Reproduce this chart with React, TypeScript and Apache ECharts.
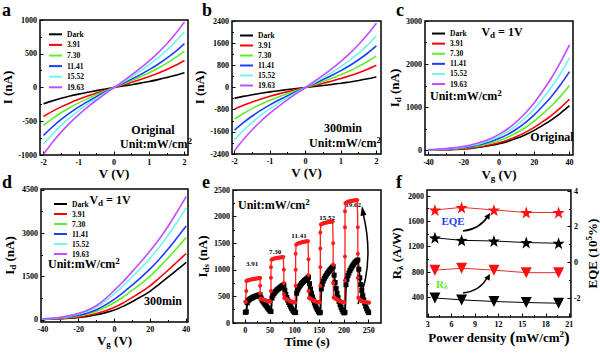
import React, { useEffect, useRef } from "react";
import * as echarts from "echarts";

const FONT = "'Liberation Serif', 'Times New Roman', serif";

const powerLabels = ["Dark", "3.91", "7.30", "11.41", "15.52", "19.63"];
const lineColors = ["#000000", "#ff0000", "#5fee2a", "#1d3dff", "#70f5f0", "#c24cff"];

// Panels a, b: bias voltage (V)
const biasV = [-2, -1.75, -1.5, -1.25, -1, -0.75, -0.5, -0.25, 0, 0.25, 0.5, 0.75, 1, 1.25, 1.5, 1.75, 2];
const aDark = [-240, -198, -160, -127, -98, -71, -46, -23, 0, 21, 42, 65, 89, 117, 147, 181, 220];
const a391 = [-430, -354, -287, -228, -175, -127, -82, -41, 0, 38, 77, 118, 163, 212, 267, 329, 400];
const a730 = [-560, -461, -374, -297, -228, -165, -107, -53, 0, 51, 103, 159, 219, 286, 361, 445, 540];
const a1141 = [-710, -585, -474, -376, -288, -209, -136, -67, 0, 61, 124, 191, 264, 344, 434, 535, 650];
const a1552 = [-840, -692, -561, -445, -341, -247, -161, -79, 0, 78, 159, 244, 337, 440, 554, 684, 830];
const a1963 = [-990, -815, -661, -524, -402, -291, -189, -93, 0, 91, 186, 286, 394, 514, 648, 799, 970];

const bDark = [-390, -321, -261, -207, -158, -115, -75, -37, 0, 36, 73, 112, 154, 201, 254, 313, 380];
const b391 = [-780, -642, -521, -413, -317, -230, -149, -73, 0, 75, 153, 236, 325, 424, 534, 659, 800];
const b730 = [-1140, -939, -762, -604, -463, -336, -218, -107, 0, 107, 218, 336, 463, 604, 762, 939, 1140];
const b1141 = [-1540, -1268, -1029, -816, -626, -453, -295, -145, 0, 141, 287, 442, 609, 795, 1002, 1236, 1500];
const b1552 = [-1880, -1549, -1256, -996, -764, -553, -360, -177, 0, 175, 356, 548, 756, 985, 1242, 1532, 1860];
const b1963 = [-2280, -1878, -1523, -1208, -926, -671, -436, -215, 0, 219, 444, 683, 943, 1229, 1550, 1911, 2320];

// Panels c, d: gate voltage (V)
const gateV = [-40, -35, -30, -25, -20, -15, -10, -5, 0, 5, 10, 15, 20, 25, 30, 35, 40];
const cDark = [10, 14, 20, 30, 42, 60, 85, 118, 160, 215, 285, 370, 470, 590, 720, 870, 1040];
const c391 = [11, 16, 23, 34, 48, 69, 97, 135, 183, 246, 326, 424, 538, 676, 824, 996, 1190];
const c730 = [15, 20, 29, 44, 61, 87, 123, 171, 232, 312, 413, 537, 682, 856, 1044, 1262, 1510];
const c1141 = [18, 25, 35, 53, 74, 106, 150, 208, 282, 378, 502, 651, 827, 1038, 1267, 1531, 1830];
const c1552 = [21, 29, 41, 62, 87, 124, 175, 243, 330, 443, 587, 762, 968, 1215, 1483, 1792, 2140];
const c1963 = [24, 33, 47, 71, 99, 142, 201, 278, 378, 507, 673, 873, 1109, 1392, 1699, 2053, 2450];

const dDark = [20, 28, 40, 58, 85, 125, 180, 255, 345, 480, 640, 810, 1000, 1240, 1490, 1740, 1990];
const d391 = [23, 32, 47, 71, 105, 154, 224, 321, 438, 597, 781, 976, 1190, 1452, 1729, 2013, 2300];
const d730 = [28, 40, 61, 93, 140, 206, 301, 438, 603, 804, 1032, 1270, 1528, 1828, 2154, 2498, 2850];
const d1141 = [31, 46, 70, 109, 165, 244, 357, 523, 724, 956, 1215, 1485, 1774, 2103, 2463, 2852, 3250];
const d1552 = [37, 54, 85, 134, 205, 302, 444, 655, 910, 1190, 1498, 1817, 2155, 2527, 2942, 3398, 3871];
const d1963 = [40, 60, 95, 150, 230, 340, 500, 740, 1030, 1340, 1680, 2030, 2400, 2800, 3250, 3750, 4270];

// Panel e: time response, black sampled every 2 s from t = 0
const eBlackStep = 2;
const eBlack = [
  200, 210, 380, 420, 440, 455, 465, 475, 485, 492, 500, 507, 513, 520, 526, 530,
  470, 430, 400, 375, 350, 325, 300, 275, 250, 225,
  215, 470, 520, 555, 580, 600, 620, 635, 650, 665, 680, 695, 705, 715,
  620, 540, 480, 430, 385, 345, 305, 270, 240, 215, 195,
  200, 560, 620, 660, 690, 715, 740, 760, 780, 800, 815, 830, 845, 860,
  740, 640, 560, 490, 430, 375, 325, 285, 250, 215, 190,
  200, 640, 730, 790, 835, 870, 900, 930, 955, 980, 1000, 1025, 1045, 1060,
  900, 760, 650, 555, 475, 405, 345, 295, 250, 215, 190,
  200, 720, 820, 890, 940, 985, 1020, 1055, 1085, 1110, 1135, 1155, 1170, 1185,
  1010, 850, 720, 610, 515, 435, 370, 315, 265, 225, 195,
];
const eRed: [number, number][] = [
  [0, 400], [1, 400], [2, 600], [2, 790], [4, 800], [6, 805], [8, 810], [10, 815], [12, 818], [14, 822],
  [16, 826], [18, 830], [20, 833], [22, 836], [24, 839], [26, 842], [28, 845], [30, 846], [30, 700], [30, 560],
  [31, 460], [33, 455], [35, 445], [37, 438], [39, 432], [41, 426], [43, 420], [45, 415], [47, 410], [49, 405], [51, 402],
  [52, 600], [52, 850], [52, 1050], [53, 1190], [55, 1200], [57, 1207], [59, 1212], [61, 1216], [63, 1220], [65, 1224],
  [67, 1227], [69, 1230], [71, 1233], [73, 1236], [75, 1238], [77, 1240], [78, 1000], [78, 750], [78, 540],
  [79, 470], [81, 460], [83, 450], [85, 440], [87, 430], [89, 420], [91, 412], [93, 405], [95, 398], [97, 392], [99, 388], [101, 385],
  [102, 700], [102, 1000], [102, 1300], [103, 1470], [105, 1485], [107, 1495], [109, 1502], [111, 1508], [113, 1513],
  [115, 1518], [117, 1522], [119, 1526], [121, 1530], [123, 1533], [125, 1536], [127, 1538], [128, 1200], [128, 900], [128, 600],
  [129, 470], [131, 460], [133, 450], [135, 440], [137, 430], [139, 420], [141, 412], [143, 405], [145, 398], [147, 392], [149, 388], [151, 385],
  [152, 700], [152, 1050], [152, 1400], [152, 1700], [153, 1850], [155, 1862], [157, 1870], [159, 1877], [161, 1882], [163, 1887],
  [165, 1891], [167, 1895], [169, 1898], [171, 1901], [173, 1904], [175, 1906], [177, 1908], [178, 1500], [178, 1100], [178, 750],
  [179, 480], [181, 465], [183, 455], [185, 445], [187, 435], [189, 425], [191, 415], [193, 408], [195, 400], [197, 395], [199, 390], [201, 385],
  [202, 800], [202, 1250], [202, 1800], [202, 2100], [203, 2250], [205, 2265], [207, 2275], [209, 2282], [211, 2288], [213, 2292],
  [215, 2296], [217, 2299], [219, 2302], [221, 2305], [223, 2307], [225, 2309], [227, 2310], [228, 1800], [228, 1300], [228, 850],
  [229, 480], [231, 440], [233, 425], [235, 415], [237, 408], [239, 402], [241, 397], [243, 393], [245, 390], [247, 387], [249, 385], [251, 383],
];
const ePowerTags = ["3.91", "7.30", "11.41", "15.52", "19.62"];

// Panel f
const fPower = [3.91, 7.3, 11.41, 15.52, 19.63];
const fEqeRed = [1780, 1820, 1780, 1740, 1740];
const fEqeBlack = [1340, 1300, 1290, 1265, 1255];
const fRRed = [830, 860, 830, 790, 790];
const fRBlack = [390, 360, 335, 318, 308];

const STAR = "path://M0,-10L2.35,-3.24L9.51,-3.09L3.8,1.24L5.88,8.09L0,4L-5.88,8.09L-3.8,1.24L-9.51,-3.09L-2.35,-3.24Z";

const RICH: any = {
  m: { fontFamily: FONT, fontWeight: "bold", fontSize: 13, color: "#000" },
  s: { fontFamily: FONT, fontWeight: "bold", fontSize: 9, color: "#000", padding: [7, 0, 0, 0] },
  u: { fontFamily: FONT, fontWeight: "bold", fontSize: 9, color: "#000", padding: [0, 0, 7, 0] },
  p: { fontFamily: FONT, fontWeight: "bold", fontSize: 17, color: "#000" },
};

const labelStyle = { color: "#000", fontFamily: FONT, fontWeight: "bold", fontSize: 8 };

function axis(kind: "x" | "y", gi: number, min: number, max: number, vals: number[], name: string, gap: number, extra: any = {}) {
  return {
    type: "value",
    gridIndex: gi,
    min,
    max,
    axisLine: { show: false, onZero: false },
    splitLine: { show: false },
    axisTick: { show: true, inside: true, length: 3.5, customValues: vals, lineStyle: { color: "#000", width: 1 } },
    axisLabel: { ...labelStyle, customValues: vals, margin: 3, formatter: (v: number) => String(v) },
    name,
    nameLocation: "middle",
    nameGap: gap,
    nameRotate: kind === "y" ? 90 : 0,
    nameTextStyle: { fontFamily: FONT, fontWeight: "bold", fontSize: 13, color: "#000", rich: RICH },
    ...extra,
  };
}

// Axis carrying only the short minor ticks
function minorAxis(gi: number, min: number, max: number, vals: number[], position: string) {
  return {
    type: "value",
    gridIndex: gi,
    min,
    max,
    position,
    axisLine: { show: false, onZero: false },
    splitLine: { show: false },
    axisTick: { show: true, inside: true, length: 2, customValues: vals, lineStyle: { color: "#000", width: 1 } },
    axisLabel: { show: false },
  };
}

function ivSeries(panel: number[][], xs: number[], gi: number) {
  return panel.map((arr, k) => ({
    type: "line",
    name: powerLabels[k],
    xAxisIndex: gi,
    yAxisIndex: gi,
    data: xs.map((x, i) => [x, arr[i]]),
    showSymbol: false,
    symbol: "none",
    smooth: 0.3,
    lineStyle: { color: lineColors[k], width: 1.6 },
    itemStyle: { color: lineColors[k] },
  }));
}

function legendAt(left: number, top: number, lh: number) {
  return {
    left,
    top,
    orient: "vertical",
    icon: "rect",
    itemWidth: 13,
    itemHeight: 2,
    itemGap: 1,
    selectedMode: false,
    data: powerLabels,
    textStyle: { ...labelStyle, fontSize: 7.5, lineHeight: lh - 1 },
  };
}

function txt(x: number, y: number, text: string, size: number, align = "center", fill = "#000", rich?: any) {
  return {
    type: "text",
    x,
    y,
    style: {
      text,
      fill,
      font: `bold ${size}px ${FONT}`,
      align,
      verticalAlign: "middle",
      rich,
    },
  };
}

const unitRich = {
  m: { fontFamily: FONT, fontWeight: "bold", fontSize: 12, fill: "#000" },
  u: { fontFamily: FONT, fontWeight: "bold", fontSize: 9, fill: "#000", padding: [0, 0, 7, 0] },
  s: { fontFamily: FONT, fontWeight: "bold", fontSize: 9, fill: "#000", padding: [6, 0, 0, 0] },
};
const unitText = "{m|Unit:mW/cm}{u|2}";
const vdText = "{m|V}{s|d}{m| = 1V}";

export default function App() {
  const ref = useRef<HTMLDivElement>(null);
  useEffect(() => {
    document.body.style.margin = "0";
    if (!ref.current) return;
    const chart = echarts.init(ref.current, undefined, { renderer: "svg" });
    const gridBox = { show: true, borderColor: "#000", borderWidth: 1.5, backgroundColor: "transparent" };
    const option: any = {
      animation: false,
      backgroundColor: "#fff",
      grid: [
        { ...gridBox, left: 40, top: 20, width: 148, height: 135 },
        { ...gridBox, left: 232, top: 21, width: 149, height: 133 },
        { ...gridBox, left: 425, top: 21, width: 148, height: 134 },
        { ...gridBox, left: 41, top: 189, width: 147, height: 133 },
        { ...gridBox, left: 233, top: 190, width: 148, height: 133 },
        { ...gridBox, left: 427, top: 190, width: 148, height: 127 },
      ],
      xAxis: [
        axis("x", 0, -2.1, 2.1, [-2, -1, 0, 1, 2], "V (V)", 11),
        axis("x", 1, -2.07, 2.13, [-2, -1, 0, 1, 2], "V (V)", 11),
        axis("x", 2, -42, 42, [-40, -20, 0, 20, 40], "{m|V}{s|g}{m| (V)}", 11),
        axis("x", 3, -41, 41, [-40, -20, 0, 20, 40], "{m|V}{s|g}{m| (V)}", 9),
        axis("x", 4, -25, 275, [0, 50, 100, 150, 200, 250], "Time (s)", 10),
        axis("x", 5, 2.9, 21.2, [3, 6, 9, 12, 15, 18, 21], "{m|Power density }{p|(}{m|mW/cm}{u|2}{p|)}", 8),
        minorAxis(0, -2.1, 2.1, [-1.5, -0.5, 0.5, 1.5], "bottom"),
        minorAxis(1, -2.07, 2.13, [-1.5, -0.5, 0.5, 1.5], "bottom"),
        minorAxis(2, -42, 42, [-30, -10, 10, 30], "bottom"),
        minorAxis(3, -41, 41, [-30, -10, 10, 30], "bottom"),
        minorAxis(4, -25, 275, [25, 75, 125, 175, 225], "bottom"),
        minorAxis(5, 2.9, 21.2, [4.5, 7.5, 10.5, 13.5, 16.5, 19.5], "bottom"),
      ],
      yAxis: [
        axis("y", 0, -1000, 1000, [-1000, -500, 0, 500, 1000], "I (nA)", 15),
        axis("y", 1, -2400, 2400, [-2400, -1600, -800, 0, 800, 1600, 2400], "I (nA)", 17),
        axis("y", 2, -100, 3000, [0, 1000, 2000, 3000], "{m|I}{s|d}{m| (nA)}", 15),
        axis("y", 3, -70, 4530, [0, 1500, 3000, 4500], "{m|I}{s|d}{m| (nA)}", 24),
        axis("y", 4, 0, 2500, [0, 500, 1000, 1500, 2000, 2500], "{m|I}{s|ds}{m| (nA)}", 18),
        axis("y", 5, 90, 2095, [400, 800, 1200, 1600, 2000], "{m|R}{s|λ}{m| (A/W)}", 15),
        axis("y", 5, -3.05, 4.056, [-2, 0, 2, 4], "{m|EQE (10}{u|5}{m|%)}", 12, { position: "right" }),
        minorAxis(0, -1000, 1000, [-750, -250, 250, 750], "left"),
        minorAxis(1, -2400, 2400, [-2000, -1200, -400, 400, 1200, 2000], "left"),
        minorAxis(2, -100, 3000, [500, 1500, 2500], "left"),
        minorAxis(3, -70, 4530, [750, 2250, 3750], "left"),
        minorAxis(4, 0, 2500, [250, 750, 1250, 1750, 2250], "left"),
        minorAxis(5, 90, 2095, [600, 1000, 1400, 1800], "left"),
        minorAxis(5, -3.05, 4.056, [-1, 1, 3], "right"),
      ],
      legend: [legendAt(44, 24.5, 10.6), legendAt(235, 26, 10), legendAt(427, 24, 10.1), legendAt(49, 194.5, 10)],
      series: [
        ...ivSeries([aDark, a391, a730, a1141, a1552, a1963], biasV, 0),
        ...ivSeries([bDark, b391, b730, b1141, b1552, b1963], biasV, 1),
        ...ivSeries([cDark, c391, c730, c1141, c1552, c1963], gateV, 2),
        ...ivSeries([dDark, d391, d730, d1141, d1552, d1963], gateV, 3),
        {
          type: "line",
          name: "e-dark",
          xAxisIndex: 4,
          yAxisIndex: 4,
          data: eBlack.map((v, i) => [i * eBlackStep, v]),
          symbol: "rect",
          symbolSize: 5,
          showSymbol: true,
          lineStyle: { color: "#000", width: 2 },
          itemStyle: { color: "#000" },
        },
        {
          type: "line",
          name: "e-light",
          xAxisIndex: 4,
          yAxisIndex: 4,
          data: eRed,
          symbol: "circle",
          symbolSize: 4,
          showSymbol: true,
          lineStyle: { color: "#ff2020", width: 1.3 },
          itemStyle: { color: "#ff1a1a" },
        },
        {
          type: "line", name: "EQE-red", xAxisIndex: 5, yAxisIndex: 5,
          data: fPower.map((x, i) => [x, fEqeRed[i]]),
          symbol: STAR, symbolSize: 12, lineStyle: { color: "#e03030", width: 1 }, itemStyle: { color: "#ff1010" },
        },
        {
          type: "line", name: "EQE-black", xAxisIndex: 5, yAxisIndex: 5,
          data: fPower.map((x, i) => [x, fEqeBlack[i]]),
          symbol: STAR, symbolSize: 12, lineStyle: { color: "#000", width: 1 }, itemStyle: { color: "#000" },
        },
        {
          type: "line", name: "R-red", xAxisIndex: 5, yAxisIndex: 5,
          data: fPower.map((x, i) => [x, fRRed[i]]),
          symbol: "triangle", symbolRotate: 180,
          symbolSize: 11, lineStyle: { color: "#e03030", width: 1 }, itemStyle: { color: "#ff1010" },
        },
        {
          type: "line", name: "R-black", xAxisIndex: 5, yAxisIndex: 5,
          data: fPower.map((x, i) => [x, fRBlack[i]]),
          symbol: "triangle", symbolRotate: 180,
          symbolSize: 11, lineStyle: { color: "#000", width: 1 }, itemStyle: { color: "#000" },
        },
      ],
      graphic: [
        txt(2, 10, "a", 18, "left"),
        txt(202, 10, "b", 18, "left"),
        txt(396, 10, "c", 18, "left"),
        txt(2, 182, "d", 18, "left"),
        txt(202, 182, "e", 18, "left"),
        txt(396, 182, "f", 18, "left"),
        txt(153, 130, "Original", 12),
        txt(156, 144, unitText, 12, "center", "#000", unitRich),
        txt(343, 128, "300min", 12),
        txt(345, 143, unitText, 12, "center", "#000", unitRich),
        txt(502, 32, vdText, 12, "center", "#000", unitRich),
        txt(430, 96, unitText, 12, "left", "#000", unitRich),
        txt(552, 137, "Original", 12),
        txt(110, 200, vdText, 12, "center", "#000", unitRich),
        txt(48, 264, unitText, 12, "left", "#000", unitRich),
        txt(163, 301, "300min", 12),
        txt(238, 205, unitText, 12, "left", "#000", unitRich),
        txt(252, 264, ePowerTags[0], 7),
        txt(275, 252, ePowerTags[1], 7),
        txt(299, 236, ePowerTags[2], 7),
        txt(327, 218, ePowerTags[3], 7),
        txt(353, 205, ePowerTags[4], 7),
        txt(453, 221, "EQE", 11, "center", "#1d3dff"),
        txt(442, 284, "{r|R}{l|λ}", 11, "center", "#5fee2a", {
          r: { fontFamily: FONT, fontWeight: "bold", fontSize: 11, fill: "#5fee2a" },
          l: { fontFamily: FONT, fontWeight: "bold", fontSize: 8, fill: "#5fee2a", padding: [5, 0, 0, 0] },
        }),
        { type: "bezierCurve", shape: { x1: 358, y1: 304, x2: 363, y2: 213, cpx1: 375, cpy1: 262 }, style: { stroke: "#000", lineWidth: 1.5, fill: null } },
        { type: "polygon", shape: { points: [[362, 206], [366.5, 215], [360.5, 216]] }, style: { fill: "#000" } },
        { type: "bezierCurve", shape: { x1: 463, y1: 231, x2: 488, y2: 216, cpx1: 480, cpy1: 229 }, style: { stroke: "#000", lineWidth: 1.5, fill: null } },
        { type: "polygon", shape: { points: [[490, 213], [489.4, 219.7], [484.3, 216.5]] }, style: { fill: "#000" } },
        { type: "bezierCurve", shape: { x1: 463, y1: 293, x2: 487, y2: 278, cpx1: 480, cpy1: 291 }, style: { stroke: "#000", lineWidth: 1.5, fill: null } },
        { type: "polygon", shape: { points: [[490, 274], [489.6, 280.7], [484.4, 277.7]] }, style: { fill: "#000" } },
      ],
    };
    chart.setOption(option);
    return () => chart.dispose();
  }, []);
  return <div ref={ref} style={{ width: 600, height: 353 }} />;
}
